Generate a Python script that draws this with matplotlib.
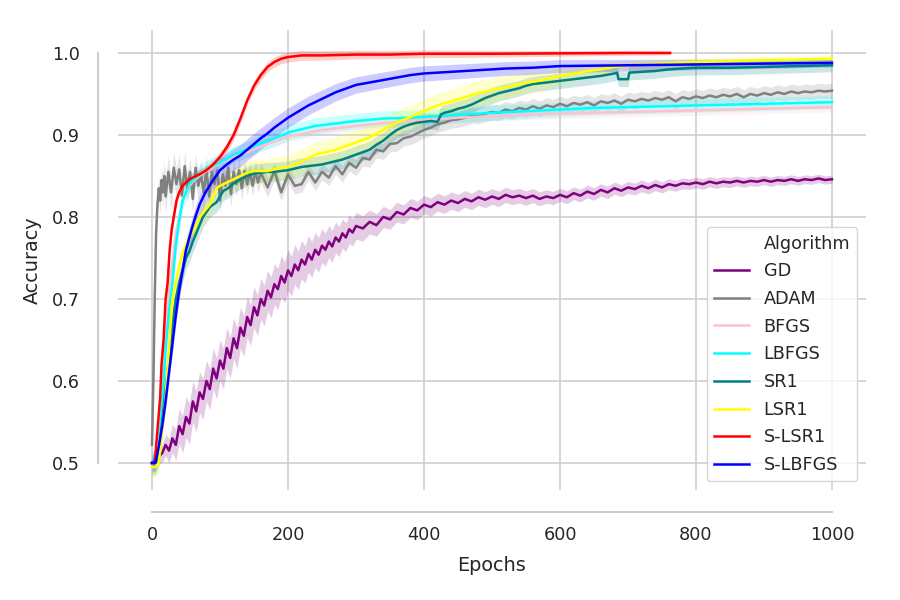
import numpy as np
import matplotlib
matplotlib.use("Agg")
import matplotlib.pyplot as plt
from matplotlib.lines import Line2D

# ---------------- data ----------------
gd_x = list(range(0, 301, 5)) + list(range(310, 1001, 10))
gd_y = [.500, .503, .508, .512, .522, .515, .530, .522, .545, .535, .556, .548, .575, .563, .586, .578,
        .600, .590, .615, .603, .625, .615, .640, .628, .652, .640, .665, .655, .678, .668, .690, .680,
        .700, .692, .710, .702, .718, .712, .728, .720, .735, .728, .742, .735, .748, .742, .755, .748,
        .760, .754, .765, .760, .770, .764, .775, .770, .780, .775, .785, .781, .789,
        .786, .794, .790, .800, .797, .806, .803, .811, .808, .815, .812, .818, .815, .820, .817, .822,
        .819, .824, .821, .825, .822, .827, .824, .826, .823, .826, .822, .825, .823, .827, .824, .829,
        .826, .831, .828, .833, .830, .835, .832, .836, .834, .838, .835, .839, .836, .840, .838, .841,
        .840, .842, .840, .843, .841, .843, .842, .844, .842, .844, .843, .845, .843, .845, .844, .846,
        .844, .846, .845, .847, .845, .846]
gd_band = ([0, 50, 200, 350, 600, 1000], [.005, .025, .025, .012, .008, .005])

adam_x = list(range(0, 21, 2)) + list(range(24, 161, 4)) + list(range(170, 1001, 10))
adam_y = [.522, .60, .70, .78, .815, .835, .82, .845, .83, .85, .825,
          .855, .83, .86, .84, .858, .826, .862, .835, .855, .822, .86, .838, .852, .83, .858, .825,
          .855, .84, .857, .82, .852, .838, .86, .828, .855, .84, .857, .835, .856, .84, .855, .838,
          .856, .842, .854,
          .836, .856, .83, .852, .838, .84, .855, .842, .855, .848, .862, .852, .866, .860, .872, .870,
          .882, .880, .889, .890, .896, .898, .902, .906, .909, .913, .915, .918, .919, .921, .924, .923,
          .926, .928, .927, .931, .929, .933, .931, .935, .932, .936, .934, .938, .935, .939, .937, .940,
          .936, .941, .939, .942, .938, .943, .941, .944, .942, .945, .943, .946, .941, .946, .944, .947,
          .945, .948, .946, .949, .947, .950, .946, .950, .948, .951, .949, .952, .950, .953, .951, .953,
          .952, .954, .953, .954]
adam_band = ([0, 20, 200, 1000], [.01, .02, .01, .009])

bfgs_x = [0, 5, 10, 15, 20, 25, 30, 35, 40, 45, 50, 60, 70, 80, 90, 100, 120, 140, 160, 180, 200,
          250, 300, 350, 400, 450, 500, 600, 700, 800, 900, 1000]
bfgs_y = [.50, .50, .53, .60, .66, .71, .745, .78, .80, .82, .832, .843, .85, .856, .861, .865, .873,
          .879, .886, .892, .898, .906, .911, .915, .918, .921, .923, .926, .928, .930, .932, .934]
bfgs_band = ([0, 1000], [.006, .006])

lbfgs_x = [0, 5, 10, 15, 20, 25, 30, 35, 40, 45, 50, 55, 60, 70, 80, 90, 100, 110, 120, 130, 140, 150,
           160, 170, 180, 190, 200, 220, 240, 260, 280, 300, 340, 380, 420, 460, 500, 550, 600, 650,
           700, 800, 900, 1000]
lbfgs_y = [.50, .50, .516, .57, .638, .685, .72, .765, .795, .82, .83, .84, .845, .852, .858, .863,
           .866, .871, .876, .879, .882, .886, .89, .893, .896, .899, .903, .907, .911, .913, .915,
           .917, .920, .921, .923, .925, .927, .929, .931, .933, .934, .936, .938, .940]
lbfgs_band = ([0, 100, 1000], [.012, .01, .008])

sr1_x = [0, 5, 10, 15, 20, 25, 30, 35, 40, 45, 50, 55, 60, 65, 70, 75, 80, 85, 90, 95, 100, 105, 110,
         115, 120, 125, 130, 140, 150, 160, 170, 180, 190, 200, 210, 220, 230, 240, 250, 260, 270,
         280, 290, 300, 310, 320, 330, 340, 350, 360, 370, 380, 390, 400, 410, 420, 425, 430, 440,
         450, 460, 470, 480, 490, 500, 510, 520, 530, 540, 550, 560, 580, 600, 620, 640, 660, 680,
         684, 686, 700, 702, 720, 740, 760, 780, 800, 850, 900, 950, 1000]
sr1_y = [.50, .50, .51, .55, .59, .63, .67, .70, .72, .735, .75, .758, .77, .78, .79, .80, .806, .812,
         .815, .818, .825, .832, .834, .837, .841, .843, .846, .85, .853, .854, .855, .855, .856, .857,
         .859, .861, .862, .863, .864, .866, .868, .870, .873, .876, .879, .882, .888, .893, .900,
         .906, .910, .913, .915, .916, .917, .916, .925, .927, .929, .932, .934, .937, .941, .945,
         .948, .951, .953, .955, .957, .960, .962, .964, .966, .968, .970, .972, .975, .976, .968,
         .968, .976, .977, .978, .980, .981, .982, .982, .983, .984, .985]
sr1_band = ([0, 100, 400, 1000], [.015, .012, .01, .008])

lsr1_x = [0, 5, 10, 15, 20, 25, 30, 35, 40, 45, 50, 55, 60, 65, 70, 75, 80, 85, 90, 95, 100, 110, 120,
          130, 140, 150, 160, 170, 180, 190, 200, 210, 220, 230, 240, 250, 260, 270, 280, 290, 300,
          310, 320, 330, 340, 350, 360, 380, 400, 420, 440, 460, 480, 500, 520, 540, 560, 580, 600,
          620, 640, 660, 680, 700, 750, 800, 850, 900, 950, 1000]
lsr1_y = [.495, .495, .50, .54, .58, .64, .70, .72, .74, .755, .765, .775, .782, .79, .80, .805, .81,
          .815, .825, .835, .838, .842, .846, .85, .854, .856, .856, .856, .858, .86, .861, .864, .868,
          .872, .876, .878, .88, .882, .885, .888, .891, .894, .897, .902, .906, .911, .915, .922,
          .929, .936, .941, .946, .951, .955, .958, .962, .965, .968, .972, .975, .978, .980, .983,
          .985, .987, .989, .990, .991, .992, .993]
lsr1_band = ([0, 200, 500, 700, 1000], [.012, .015, .015, .006, .004])

slsr1_x = [0, 4, 8, 12, 14, 17, 20, 23, 26, 29, 32, 36, 40, 45, 50, 55, 60, 70, 80, 90, 100, 110, 120,
           130, 140, 150, 160, 170, 180, 190, 200, 220, 250, 300, 350, 400, 500, 600, 700, 762]
slsr1_y = [.50, .50, .54, .58, .62, .65, .70, .72, .76, .785, .80, .82, .83, .838, .842, .846, .848,
           .852, .857, .864, .873, .885, .90, .92, .942, .96, .973, .983, .989, .993, .995, .997,
           .997, .998, .998, .999, .999, .9995, 1.0, 1.0]
slsr1_band = ([0, 200, 1000], [.006, .006, .001])

slbfgs_x = [0, 5, 10, 15, 20, 25, 30, 35, 40, 45, 50, 55, 60, 65, 70, 75, 80, 90, 100, 110, 120, 130,
            140, 150, 160, 170, 180, 190, 200, 210, 220, 230, 240, 250, 260, 270, 280, 290, 300, 320,
            340, 360, 380, 400, 440, 480, 520, 560, 600, 700, 800, 900, 1000]
slbfgs_y = [.50, .50, .52, .545, .575, .61, .645, .68, .71, .735, .76, .775, .79, .803, .815, .824,
            .832, .845, .857, .864, .87, .875, .882, .889, .896, .902, .909, .915, .921, .926, .931,
            .936, .940, .944, .948, .952, .955, .958, .961, .964, .967, .970, .973, .975, .977, .979,
            .981, .982, .984, .985, .986, .987, .988]
slbfgs_band = ([0, 100, 300, 1000], [.01, .014, .01, .005])

names = ["GD", "ADAM", "BFGS", "LBFGS", "SR1", "LSR1", "S-LSR1", "S-LBFGS"]
colors = ["purple", "gray", "pink", "cyan", "teal", "yellow", "red", "blue"]
series = [(gd_x, gd_y, gd_band), (adam_x, adam_y, adam_band), (bfgs_x, bfgs_y, bfgs_band),
          (lbfgs_x, lbfgs_y, lbfgs_band), (sr1_x, sr1_y, sr1_band), (lsr1_x, lsr1_y, lsr1_band),
          (slsr1_x, slsr1_y, slsr1_band), (slbfgs_x, slbfgs_y, slbfgs_band)]

x_ticks = [0, 200, 400, 600, 800, 1000]
y_ticks = [0.5, 0.6, 0.7, 0.8, 0.9, 1.0]

# ---------------- plot ----------------
txt = "#262626"
plt.rcParams["font.family"] = ["DejaVu Sans"]
fig = plt.figure(figsize=(9, 6), dpi=100)
ax = fig.add_axes([118 / 900, 1 - 490 / 600, 748 / 900, 460 / 600])

handles = []
for (xs, ys, band), name, c in zip(series, names, colors):
    xs = np.asarray(xs, float)
    ys = np.asarray(ys, float)
    w = np.interp(xs, band[0], band[1])
    ax.fill_between(xs, ys - w, ys + w, color=c, alpha=0.2, linewidth=0)
    ln, = ax.plot(xs, ys, color=c, lw=1.8, label=name)
    handles.append(ln)

ax.set_xlim(-50, 1050)
ax.set_ylim(0.467, 1.028)
ax.set_xticks(x_ticks)
ax.set_yticks(y_ticks)
ax.set_xticklabels([str(t) for t in x_ticks])
ax.set_yticklabels([f"{t:.1f}" for t in y_ticks])
ax.grid(True, color="#cccccc", lw=1.1)
ax.set_axisbelow(True)
ax.tick_params(axis="both", length=0, labelsize=12.7, labelcolor=txt)
ax.tick_params(axis="y", pad=13)
ax.tick_params(axis="x", pad=10)

for s in ["top", "right"]:
    ax.spines[s].set_visible(False)
ax.spines["left"].set_position(("outward", 14.4))
ax.spines["bottom"].set_position(("outward", 15.8))
ax.spines["left"].set_bounds(0.5, 1.0)
ax.spines["bottom"].set_bounds(0, 1000)
for s in ["left", "bottom"]:
    ax.spines[s].set_color("#cccccc")
    ax.spines[s].set_linewidth(1.4)

ax.set_xlabel("Epochs", fontsize=13.9, color=txt, labelpad=8.5)
ax.set_ylabel("Accuracy", fontsize=13.9, color=txt, labelpad=7)

title_h = Line2D([], [], color="none")
leg = ax.legend([title_h] + handles, ["Algorithm"] + names, loc="lower right",
                fontsize=12.7, frameon=True, borderaxespad=0.5, labelspacing=0.55)
leg.get_frame().set_edgecolor("#cccccc")
for t in leg.get_texts():
    t.set_color(txt)

fig.savefig("out.png", dpi=100, facecolor="white")
